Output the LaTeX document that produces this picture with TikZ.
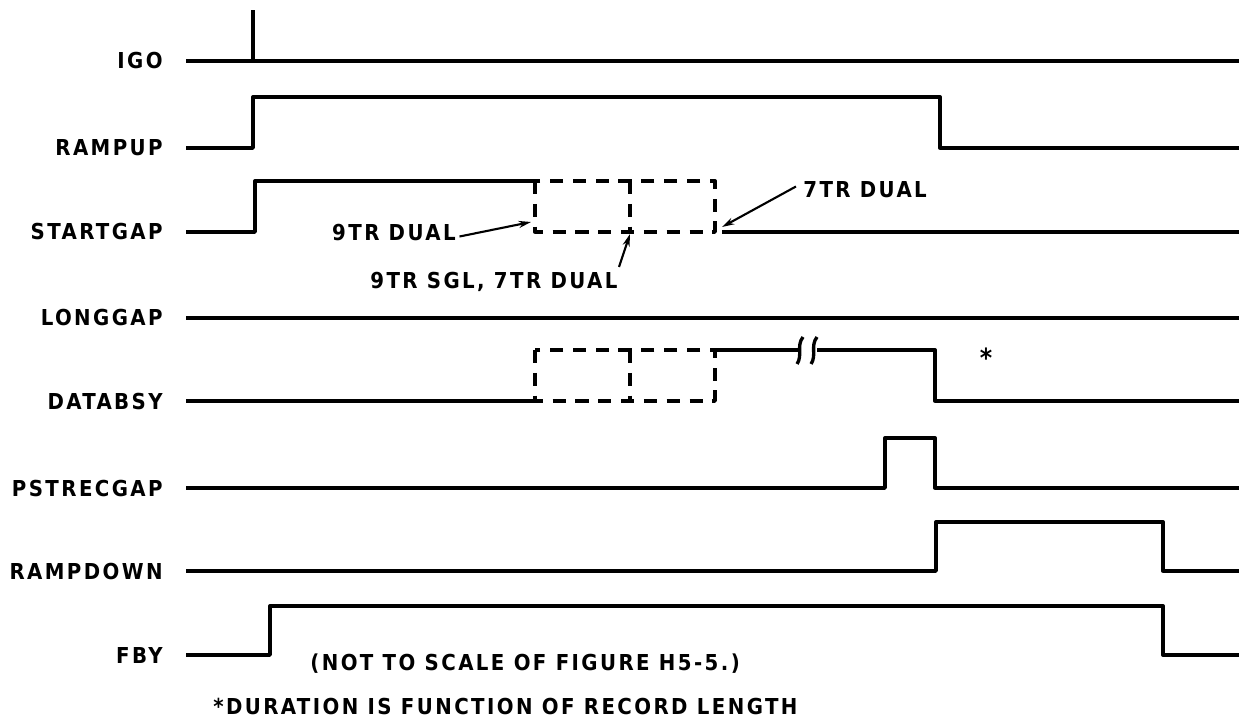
\documentclass[tikz,border=0pt]{standalone}
\usepackage{fontspec}
\setmainfont{DejaVu Sans Condensed}[LetterSpace=11]
\usetikzlibrary{arrows.meta}

\begin{document}
\begin{tikzpicture}[x=0.02cm,y=-0.02cm,
  sig/.style={line width=1.9pt, line join=round},
  alt/.style={sig, dash pattern=on 7.5pt off 5.5pt},
  lbl/.style={font=\bfseries\fontsize{12.5}{15}\selectfont, inner sep=0pt},
  note/.style={-{Stealth[length=7pt,width=4pt]}, line width=1.2pt}]
  \useasboundingbox (0,0) rectangle (1239,723);

  % signal names
  \foreach \name/\y in {IGO/61,RAMPUP/148,STARTGAP/232,LONGGAP/318,DATABSY/401,PSTRECGAP/488,RAMPDOWN/571,FBY/655}
    \node[lbl, anchor=east] (\name) at (163,\y) {\name};

  % waveforms
  \draw[sig] (186,61) -- (1239,61);
  \draw[sig] (253,61) -- (253,10);
  \draw[sig] (186,148) -- (253,148) -- (253,97) -- (940,97) -- (940,148) -- (1239,148);
  \draw[sig] (186,232) -- (255,232) -- (255,181) -- (535,181);
  \draw[alt] (535,181) rectangle (715,232);
  \draw[alt] (630,181) -- (630,232);
  \draw[sig] (722,232) -- (1239,232);
  \draw[sig] (186,318) -- (1239,318);
  \draw[sig] (186,401) -- (535,401);
  \draw[alt] (535,350) rectangle (715,401);
  \draw[alt] (630,350) -- (630,401);
  \draw[sig] (715,350) -- (799,350);
  \draw[sig] (817,350) -- (935,350) -- (935,401) -- (1239,401);
  \draw[sig] (797,364) .. controls (803,355) and (796,346) .. (803,337);
  \draw[sig] (811,364) .. controls (817,355) and (810,346) .. (817,337);
  \draw[sig] (186,488) -- (885,488) -- (885,438) -- (935,438) -- (935,488) -- (1239,488);
  \draw[sig] (186,571) -- (936,571) -- (936,522) -- (1163,522) -- (1163,571) -- (1239,571);
  \draw[sig] (186,655) -- (270,655) -- (270,606) -- (1163,606) -- (1163,655) -- (1239,655);

  % notes
  \node[lbl, anchor=east] (dual9) at (456,233) {9TR DUAL};
  \node[lbl, anchor=west] (dual7) at (803,190) {7TR DUAL};
  \node[lbl, anchor=west] (sgl9) at (370,282) {9TR SGL, 7TR DUAL};
  \coordinate (tip9) at (531,222);
  \coordinate (tip7) at (722,227);
  \coordinate (tipsgl) at (630,234);
  \draw[note] ([xshift=2pt,yshift=-2pt]dual9.east) -- (tip9);
  \draw[note] ([xshift=-4pt,yshift=2pt]dual7.west) -- (tip7);
  \draw[note] (619,267) -- (tipsgl);
  \node[lbl, font=\bfseries\fontsize{15}{15}\selectfont] (star) at (986,358) {*};

  \node[lbl, anchor=west] (scale) at (310,664) {(NOT TO SCALE OF FIGURE H5-5.)};
  \node[lbl, anchor=west] (dur) at (213,706) {*DURATION IS FUNCTION OF RECORD LENGTH};
\end{tikzpicture}
\end{document}
